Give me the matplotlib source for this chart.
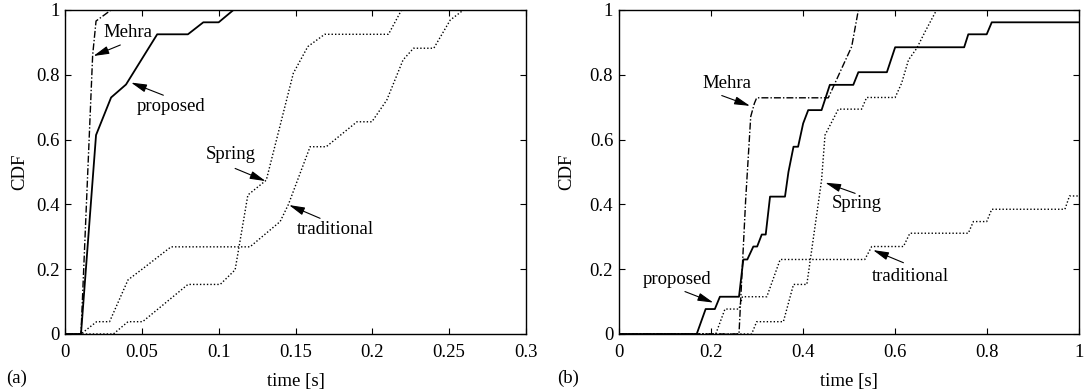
import matplotlib
matplotlib.use("Agg")
import matplotlib.pyplot as plt

plt.rcParams['font.family'] = ['Liberation Serif', 'DejaVu Serif']
plt.rcParams['font.size'] = 13.5

# ---------------- panel (a) data ----------------
a_prop_t = [0.0, 0.0104, 0.0202, 0.030, 0.0397, 0.060, 0.080, 0.090, 0.100, 0.1096, 0.3]
a_prop_c = [0.0, 0.0, 0.614, 0.73, 0.77, 0.925, 0.925, 0.962, 0.962, 1.0, 1.0]

a_mehra_t = [0.0, 0.0104, 0.018, 0.0202, 0.030, 0.3]
a_mehra_c = [0.0, 0.0, 0.861, 0.966, 1.0, 1.0]

a_spring_t = [0.0, 0.0315, 0.041, 0.0505, 0.080, 0.101, 0.1107, 0.119, 0.131, 0.1486,
              0.158, 0.169, 0.2105, 0.219, 0.3]
a_spring_c = [0.0, 0.0, 0.038, 0.038, 0.153, 0.153, 0.198, 0.429, 0.475, 0.805,
              0.887, 0.925, 0.925, 1.0, 1.0]

a_trad_t = [0.0, 0.0104, 0.0206, 0.029, 0.041, 0.051, 0.069, 0.1204, 0.140, 0.1454,
            0.1595, 0.170, 0.190, 0.1997, 0.2094, 0.220, 0.2268, 0.240, 0.2507, 0.2593, 0.3]
a_trad_c = [0.0, 0.0, 0.038, 0.038, 0.167, 0.203, 0.269, 0.269, 0.347, 0.40,
            0.578, 0.578, 0.655, 0.655, 0.722, 0.846, 0.882, 0.882, 0.969, 1.0, 1.0]

# ---------------- panel (b) data ----------------
b_prop_t = [0.0, 0.1696, 0.189, 0.209, 0.220, 0.2615, 0.2687, 0.271, 0.2796, 0.2927,
            0.301, 0.311, 0.3196, 0.329, 0.3615, 0.369, 0.380, 0.390, 0.401, 0.412,
            0.441, 0.459, 0.510, 0.521, 0.583, 0.601, 0.751, 0.760, 0.800, 0.811, 1.0]
b_prop_c = [0.0, 0.0, 0.077, 0.077, 0.115, 0.115, 0.203, 0.23, 0.23, 0.27,
            0.27, 0.307, 0.307, 0.424, 0.424, 0.50, 0.578, 0.578, 0.65, 0.691,
            0.691, 0.769, 0.769, 0.808, 0.808, 0.885, 0.885, 0.925, 0.925, 0.962, 0.962]

b_mehra_t = [0.0, 0.2615, 0.276, 0.287, 0.295, 0.300, 0.4557, 0.481, 0.5065, 0.521, 1.0]
b_mehra_c = [0.0, 0.0, 0.414, 0.671, 0.712, 0.729, 0.729, 0.808, 0.887, 1.0, 1.0]

b_spring_t = [0.0, 0.289, 0.300, 0.358, 0.380, 0.409, 0.441, 0.4485, 0.4775, 0.528,
              0.539, 0.601, 0.615, 0.630, 0.648, 0.666, 0.691, 1.0]
b_spring_c = [0.0, 0.0, 0.038, 0.038, 0.153, 0.153, 0.475, 0.614, 0.694, 0.694,
              0.730, 0.730, 0.774, 0.846, 0.882, 0.933, 1.0, 1.0]

b_trad_t = [0.0, 0.211, 0.231, 0.2615, 0.269, 0.322, 0.351, 0.535, 0.550, 0.619,
            0.633, 0.760, 0.771, 0.800, 0.811, 0.970, 0.980, 1.0]
b_trad_c = [0.0, 0.0, 0.077, 0.077, 0.115, 0.115, 0.23, 0.23, 0.27, 0.27,
            0.311, 0.311, 0.347, 0.347, 0.385, 0.385, 0.426, 0.426]

y_ticks = [0, 0.2, 0.4, 0.6, 0.8, 1.0]
y_labels = ['0', '0.2', '0.4', '0.6', '0.8', '1']
a_x_ticks = [0, 0.05, 0.1, 0.15, 0.2, 0.25, 0.3]
a_x_labels = ['0', '0.05', '0.1', '0.15', '0.2', '0.25', '0.3']
b_x_ticks = [0, 0.2, 0.4, 0.6, 0.8, 1.0]
b_x_labels = ['0', '0.2', '0.4', '0.6', '0.8', '1']

# annotations: (text, text_xy, arrow_start, arrow_tip)
a_notes = [("Mehra", (0.0412, 0.931), (0.036, 0.892), (0.0185, 0.858)),
           ("proposed", (0.0688, 0.702), (0.064, 0.737), (0.0430, 0.776)),
           ("Spring", (0.1079, 0.555), (0.1107, 0.511), (0.1305, 0.472)),
           ("traditional", (0.1762, 0.323), (0.166, 0.357), (0.1458, 0.398))]
b_notes = [("Mehra", (0.2348, 0.774), (0.224, 0.736), (0.2855, 0.704)),
           ("proposed", (0.1275, 0.167), (0.144, 0.131), (0.2057, 0.097)),
           ("Spring", (0.517, 0.403), (0.514, 0.434), (0.449, 0.467)),
           ("traditional", (0.635, 0.179), (0.619, 0.220), (0.553, 0.259))]

W, H = 1084, 392
fig = plt.figure(figsize=(W / 100, H / 100), dpi=100)
ax_a = fig.add_axes([65 / W, (H - 334) / H, 461 / W, 324 / H])
ax_b = fig.add_axes([618.7 / W, (H - 334) / H, 460 / W, 324 / H])

dashdot = (0, (5, 1.5, 1, 1.5))
lw_main = 1.3
lw_thin = 1.0


def draw(ax, prop, mehra, spring, trad, xlim, xt, xl, notes, tag, ylab_x, tag_x):
    ax.plot(trad[0], trad[1], color='black', lw=lw_thin, linestyle=(0, (1, 1.5)))
    ax.plot(spring[0], spring[1], color='black', lw=lw_thin, linestyle=(0, (1, 1.5)))
    ax.plot(mehra[0], mehra[1], color='black', lw=lw_thin, linestyle=dashdot)
    ax.plot(prop[0], prop[1], color='black', lw=lw_main, linestyle='-')
    ax.set_xlim(*xlim)
    ax.set_ylim(0, 1)
    ax.set_xticks(xt)
    ax.set_xticklabels(xl)
    ax.set_yticks(y_ticks)
    ax.set_yticklabels(y_labels)
    ax.tick_params(direction='in', length=4, width=0.8, top=True, right=True,
                   labelsize=13.5)
    ax.tick_params(axis='y', pad=4)
    ax.tick_params(axis='x', pad=7)
    for s in ax.spines.values():
        s.set_linewidth(1.0)
    ax.set_xlabel('time [s]', fontsize=13.5, va='center')
    ax.xaxis.set_label_coords(0.5, -47.5 / 324)
    ax.set_ylabel('CDF', fontsize=13.5, va='center')
    ax.yaxis.set_label_coords(ylab_x, 0.5)
    for txt, txy, start, tip in notes:
        ax.text(txy[0], txy[1], txt, ha='center', va='center', fontsize=13.5)
        ax.annotate('', xy=tip, xytext=start,
                    arrowprops=dict(arrowstyle='-|>,head_length=0.7,head_width=0.18',
                                    color='black', lw=0.8, shrinkA=0, shrinkB=0))
    ax.text(tag_x, -44 / 324, tag, transform=ax.transAxes, fontsize=13.5,
            ha='left', va='center')


draw(ax_a, (a_prop_t, a_prop_c), (a_mehra_t, a_mehra_c), (a_spring_t, a_spring_c),
     (a_trad_t, a_trad_c), (0, 0.3), a_x_ticks, a_x_labels, a_notes, '(a)',
     (19.5 - 65) / 461, (6.5 - 65) / 461)
draw(ax_b, (b_prop_t, b_prop_c), (b_mehra_t, b_mehra_c), (b_spring_t, b_spring_c),
     (b_trad_t, b_trad_c), (0, 1.0), b_x_ticks, b_x_labels, b_notes, '(b)',
     (567 - 618.7) / 460, (556.7 - 618.7) / 460)

fig.savefig('out.png', dpi=100)
